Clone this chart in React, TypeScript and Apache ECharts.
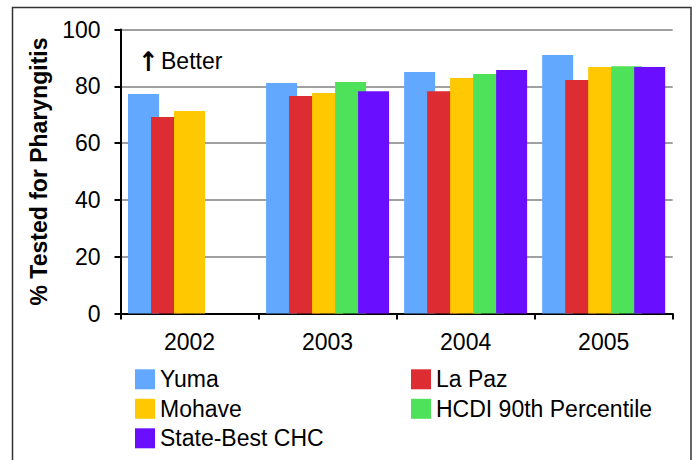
import React, { useEffect, useRef } from "react";
import * as echarts from "echarts";

const categories = ["2002", "2003", "2004", "2005"];
const seriesNames = ["Yuma", "La Paz", "Mohave", "HCDI 90th Percentile", "State-Best CHC"];
const yuma = [77.3, 81.2, 85.0, 91.0];
const laPaz = [69.2, 76.6, 78.3, 82.2];
const mohave = [71.3, 77.6, 82.9, 86.8];
const hcdi = [null, 81.5, 84.3, 87.1];
const stateBest = [null, 78.3, 85.7, 86.8];
const yTicks = { min: 0, max: 100, interval: 20 };

const colors = ["#62A8FF", "#DE2C33", "#FFC800", "#4EE25A", "#6A0EFF"];
const FONT = "'Liberation Sans', Arial, sans-serif";
const FS = 23;

export default function App() {
  const ref = useRef<HTMLDivElement>(null);
  useEffect(() => {
    if (!ref.current) return;
    const chart = echarts.init(ref.current, null, { renderer: "svg" });
    const values = [yuma, laPaz, mohave, hcdi, stateBest];
    const legendText = { fontFamily: FONT, fontSize: FS, color: "#000" };
    const legendBase = {
      orient: "vertical",
      top: 367.8,
      height: 120,
      padding: 0,
      itemWidth: 20,
      itemHeight: 20,
      itemGap: 6.5,
      icon: "rect",
      selectedMode: false,
      textStyle: legendText,
    };
    chart.setOption({
      animation: false,
      backgroundColor: "#fff",
      textStyle: { fontFamily: FONT },
      grid: { left: 120.5, right: 23.3, top: 29.5, bottom: 146.5, containLabel: false },
      legend: [
        { ...legendBase, data: [seriesNames[0], seriesNames[2], seriesNames[4]], left: 135 },
        { ...legendBase, data: [seriesNames[1], seriesNames[3]], left: 411 },
      ],
      xAxis: {
        type: "category",
        data: categories,
        axisLine: { show: true, lineStyle: { color: "#000", width: 2 } },
        axisTick: { show: true, length: 6, lineStyle: { color: "#000", width: 2 } },
        axisLabel: { fontFamily: FONT, fontSize: FS, color: "#000", margin: 17 },
        splitLine: { show: false },
      },
      yAxis: {
        type: "value",
        min: yTicks.min,
        max: yTicks.max,
        interval: yTicks.interval,
        name: "% Tested for Pharyngitis",
        nameLocation: "middle",
        nameRotate: 90,
        nameGap: 70,
        nameTextStyle: { fontFamily: FONT, fontSize: FS, fontWeight: "bold", color: "#000" },
        axisLine: { show: true, lineStyle: { color: "#000", width: 2 } },
        axisTick: { show: true, length: 6, lineStyle: { color: "#000", width: 2 } },
        axisLabel: { fontFamily: FONT, fontSize: FS, color: "#000", margin: 20 },
        splitLine: { show: true, lineStyle: { color: "#a0a0a0", width: 2 } },
      },
      series: seriesNames.map((name, i) => ({
        name,
        type: "bar",
        data: values[i],
        barWidth: 31,
        barGap: "-25.8%",
        itemStyle: { color: colors[i] },
      })),
      graphic: [
        {
          type: "rect",
          shape: { x: 12.5, y: 7.5, width: 678.5, height: 480 },
          style: { fill: "none", stroke: "#333", lineWidth: 1.5 },
          silent: true,
        },
        {
          type: "text",
          x: 138,
          y: 61.3,
          style: {
            text: "↑",
            fontFamily: "'DejaVu Sans Condensed', 'DejaVu Sans', sans-serif",
            fontSize: 27,
            fontWeight: "bold",
            fill: "#000",
            verticalAlign: "middle",
          },
        },
        {
          type: "text",
          x: 161,
          y: 61.3,
          style: { text: "Better", fontFamily: FONT, fontSize: FS, fill: "#000", verticalAlign: "middle" },
        },
      ],
    });
    return () => chart.dispose();
  }, []);
  return <div ref={ref} style={{ position: "fixed", left: 0, top: 0, width: 696, height: 460 }} />;
}
